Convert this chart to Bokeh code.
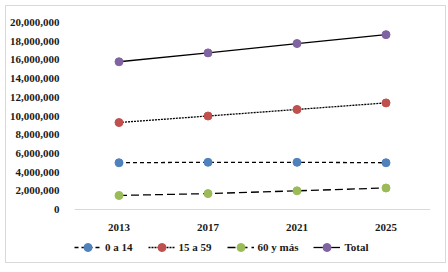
from bokeh.plotting import figure
from bokeh.models import (FactorRange, Range1d, NumeralTickFormatter, FixedTicker,
                          Legend, LegendItem, ColumnDataSource)
from bokeh.embed import file_html
from bokeh.resources import INLINE

years = ["2013", "2017", "2021", "2025"]
edad_0_14 = [5000000, 5050000, 5050000, 5000000]
edad_15_59 = [9300000, 10000000, 10700000, 11400000]
edad_60_mas = [1500000, 1700000, 2000000, 2300000]
total = [15800000, 16750000, 17750000, 18700000]
y_ticks = [0, 2000000, 4000000, 6000000, 8000000, 10000000,
           12000000, 14000000, 16000000, 18000000, 20000000]

series = [
    ("0 a 14", edad_0_14, "#4F81BD", "4 3"),
    ("15 a 59", edad_15_59, "#C0504D", "2 1"),
    ("60 y más", edad_60_mas, "#9BBB59", "8 4"),
    ("Total", total, "#8064A2", "solid"),
]

FONT = "Liberation Serif"
Y_MAX = 20000000
# extra room below zero (inside the frame) for the x labels and legend
y_min = -Y_MAX * 53 / 187

p = figure(x_range=FactorRange(*years), y_range=Range1d(y_min, Y_MAX),
           frame_width=356, frame_height=240, output_backend="svg", toolbar_location=None,
           min_border_left=65, min_border_right=15, min_border_top=16, min_border_bottom=0)
p.styles = {"border": "1px solid #d9d9d9", "margin-left": "5px", "margin-top": "5px"}
p.outline_line_color = None
p.xgrid.grid_line_color = None
p.ygrid.grid_line_color = None

p.yaxis.ticker = FixedTicker(ticks=y_ticks)
p.yaxis.formatter = NumeralTickFormatter(format="0,0")
p.yaxis.axis_line_color = None
p.yaxis.major_tick_line_color = None
p.yaxis.minor_tick_line_color = None
p.yaxis.major_label_standoff = 9
p.xaxis.fixed_location = 0
p.xaxis.axis_line_color = "#d9d9d9"
p.xaxis.major_tick_line_color = None
p.xaxis.minor_tick_line_color = None
p.xaxis.major_label_standoff = 8
for ax in (p.xaxis, p.yaxis):
    ax.major_label_text_font = FONT
    ax.major_label_text_font_size = "11px"
    ax.major_label_text_font_style = "bold"
    ax.major_label_text_color = "#1a1a1a"

items = []
for name, vals, color, dash in series:
    src = ColumnDataSource(dict(x=years, y=vals))
    ln = p.line("x", "y", source=src, line_color="black", line_width=1.3, line_dash=dash)
    sc = p.scatter("x", "y", source=src, size=8, fill_color=color, line_color=color)
    items.append(LegendItem(label=name, renderers=[ln, sc]))

legend = Legend(items=items, orientation="horizontal", location=(0, 5),
                label_text_font=FONT, label_text_font_size="11px", label_text_font_style="bold",
                label_text_color="#1a1a1a", glyph_width=27, spacing=15, border_line_color=None,
                background_fill_alpha=0, padding=2, margin=0, label_standoff=4)
p.add_layout(legend)

open("out.html", "w").write(file_html(p, INLINE))
